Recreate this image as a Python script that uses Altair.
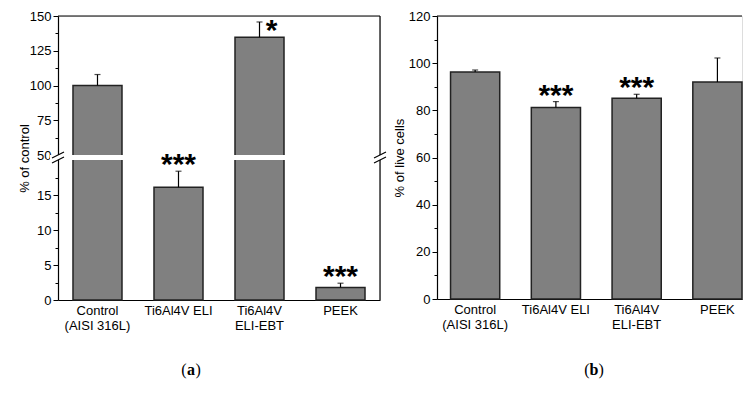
import altair as alt
import pandas as pd

# ---------------- data ----------------
categories = ["Control|(AISI 316L)", "Ti6Al4V ELI", "Ti6Al4V|ELI-EBT", "PEEK"]
a_values = [100.0, 16.1, 134.8, 1.8]
a_errors = [7.9, 2.3, 10.9, 0.6]
a_stars = ["", "***", "*", "***"]
b_values = [96.3, 81.2, 85.1, 92.0]
b_errors = [0.8, 2.5, 1.7, 10.2]
b_stars = ["", "***", "***", ""]
a_ticks = [0, 2.5, 5, 7.5, 10, 12.5, 15, 17.5,
           50, 62.5, 75, 87.5, 100, 112.5, 125, 137.5, 150]
a_break = [20, 50]
b_ticks = [0, 10, 20, 30, 40, 50, 60, 70, 80, 90, 100, 110, 120]
panel_letters = ["a", "b"]
y_titles = ["% of control", "% of live cells"]

# ---------------- style / layout ----------------
SANS = "Liberation Sans"
SERIF = "Liberation Serif"
FILL = "#808080"
EDGE = "#222222"
INK = "#000000"

W_A, W_B = 322, 305
H_LO, GAP, H_UP = 140, 5, 139
H_A = H_LO + GAP + H_UP
H_B = 283
STAR_FS = 30


def table(values, errors, stars):
    return pd.DataFrame({
        "category": categories,
        "value": values,
        "err_top": [v + e for v, e in zip(values, errors)],
        "star": stars,
    })


df_a = table(a_values, a_errors, a_stars)
df_b = table(b_values, b_errors, b_stars)
one = pd.DataFrame({"k": [0]})

xscale_a = alt.Scale(domain=categories, paddingInner=0.395, paddingOuter=0.185)
xscale_b = alt.Scale(domain=categories, paddingInner=0.391, paddingOuter=0.0839, align=1.0)

# broken (piecewise) scale for panel (a): 0-20 below the break, 50-150 above
ys_a = alt.Scale(domain=[0, a_break[0], a_break[1], 150],
                 range=[H_A, H_A - H_LO, H_A - H_LO - GAP, 0], nice=False, zero=False)
ys_b = alt.Scale(domain=[0, 120], nice=False)

major_a = "((datum.value < 20 && datum.value % 5 == 0) || (datum.value >= 50 && datum.value % 25 == 0))"
major_b = "(datum.value % 20 == 0)"


def y_axis(values, major, title, title_x):
    return alt.Axis(
        values=values,
        labelExpr=f"{major} ? datum.label : ''",
        tickSize={"condition": {"test": major, "value": 5}, "value": 3},
        tickColor=INK, tickWidth=1, domainColor=INK, domainWidth=1.2,
        labelColor=INK, labelFont=SANS, labelFontSize=13, labelPadding=2, grid=False,
        title=title, titleFont=SANS, titleFontSize=13, titleFontWeight="normal",
        titleColor=INK, titleX=title_x,
    )


x_axis = alt.Axis(labelExpr="split(datum.label, '|')", labelAngle=0, ticks=False,
                  domainColor=INK, domainWidth=1.2, labelFont=SANS, labelFontSize=13,
                  labelColor=INK, labelPadding=4, labelLineHeight=15, labelBaseline="top",
                  title=None)


def data_layers(df, xscale, yscale, yaxis):
    X = alt.X("category:N", scale=xscale, sort=categories, axis=x_axis)
    bars = alt.Chart(df).mark_bar(fill=FILL, stroke=EDGE, strokeWidth=1.5).encode(
        x=X, y=alt.Y("value:Q", scale=yscale, axis=yaxis))
    err = alt.Chart(df).mark_rule(color=INK, strokeWidth=1.2).encode(
        x=X, y=alt.Y("value:Q", scale=yscale, axis=yaxis), y2="err_top:Q")
    cap = alt.Chart(df).mark_tick(color=INK, thickness=1.2, size=6).encode(
        x=X, y=alt.Y("err_top:Q", scale=yscale, axis=yaxis))
    return X, [bars, err, cap]


def star_layer(df, X, yscale, yaxis, flt, dx, dy):
    return alt.Chart(df).transform_filter(flt).mark_text(
        font=SANS, fontSize=STAR_FS, fontWeight="bold", baseline="alphabetic",
        color=INK, dx=dx, dy=dy).encode(
        x=X, y=alt.Y("err_top:Q", scale=yscale, axis=yaxis), text="star:N")


def break_marks(yc, width):
    marks = []
    for xc in (0, width):
        marks.append(alt.Chart(one).mark_rule(color=INK, strokeWidth=1.1).encode(
            x=alt.value(xc - 6), x2=alt.value(xc + 6), y=alt.value(yc + 3), y2=alt.value(yc - 3)))
    return marks


def panel_label(letter_idx, cx, y):
    d = pd.DataFrame({"letter": [panel_letters[letter_idx]]})
    base = alt.Chart(d)
    lp = base.mark_text(font=SERIF, fontSize=16, align="right", baseline="middle", color=INK).encode(
        x=alt.value(cx - 4.5), y=alt.value(y), text=alt.value("("))
    mid = base.mark_text(font=SERIF, fontSize=16, fontWeight="bold", align="center",
                         baseline="middle", color=INK).encode(
        x=alt.value(cx), y=alt.value(y), text="letter:N")
    rp = base.mark_text(font=SERIF, fontSize=16, align="left", baseline="middle", color=INK).encode(
        x=alt.value(cx + 4.5), y=alt.value(y), text=alt.value(")"))
    return [lp, mid, rp]


# ---------------- panel (a) ----------------
ax_a = y_axis(a_ticks, major_a, y_titles[0], -27)
Xa, a_layers = data_layers(df_a, xscale_a, ys_a, ax_a)
right_a = alt.Chart(one).mark_rule(color=INK, strokeWidth=1.2).encode(
    x=alt.value(W_A), y=alt.value(0), y2=alt.value(H_A))
top_a = alt.Chart(one).mark_rule(color=INK, strokeWidth=1.2).encode(
    y=alt.YDatum(150, scale=ys_a, axis=ax_a))
gap_a = alt.Chart(one).mark_rect(fill="white").encode(
    x=alt.value(-8), x2=alt.value(W_A + 8),
    y=alt.YDatum(a_break[1], scale=ys_a, axis=ax_a), y2=alt.YDatum(a_break[0]))
stars_a_top = star_layer(df_a, Xa, ys_a, ax_a, "datum.star == '*'", 12, 18)
stars_a = star_layer(df_a, Xa, ys_a, ax_a, "datum.star == '***'", 0, 3)
panel_a = alt.layer(
    *a_layers, right_a, top_a, gap_a,
    *break_marks(H_UP, W_A), *break_marks(H_UP + GAP, W_A),
    stars_a_top, stars_a, *panel_label(0, 133, H_A + 70),
).properties(width=W_A, height=H_A)

# ---------------- panel (b) ----------------
ax_b = y_axis(b_ticks, major_b, y_titles[1], -31)
Xb, b_layers = data_layers(df_b, xscale_b, ys_b, ax_b)
top_b = alt.Chart(one).mark_rule(color=INK, strokeWidth=1.2).encode(
    y=alt.YDatum(120, scale=ys_b, axis=ax_b))
stars_b = star_layer(df_b, Xb, ys_b, ax_b, "datum.star != ''", 0, 3)
panel_b = alt.layer(*b_layers, top_b, stars_b, *panel_label(1, 157, H_B + 71)).properties(
    width=W_B, height=H_B)

chart = alt.hconcat(panel_a, panel_b, spacing=57, bounds="flush").properties(
    padding={"left": 9, "top": 1, "right": 0, "bottom": 0}
).configure_view(stroke=None).configure(background="white")

chart.save("out.html", embed_options={"renderer": "svg", "actions": False})
